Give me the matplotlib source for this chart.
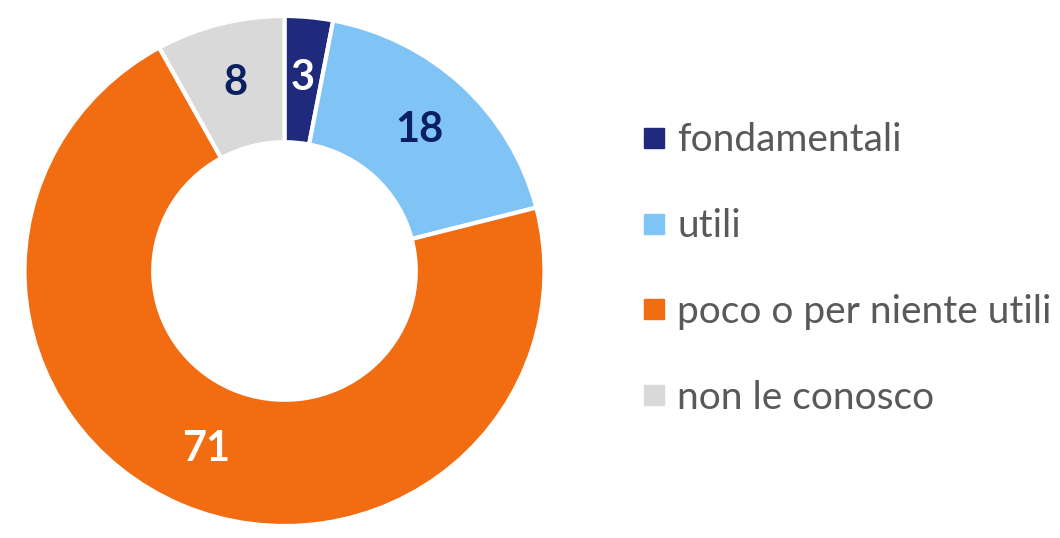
import matplotlib.pyplot as plt
from matplotlib.lines import Line2D

categories = ["fondamentali", "utili", "poco o per niente utili", "non le conosco"]
values = [3, 18, 71, 8]
colors = ["#1F2A7C", "#80C4F6", "#F26C12", "#D9D9D9"]
label_colors = ["white", "#0B2060", "white", "#0B2060"]

plt.rcParams['font.family'] = ['Lato', 'DejaVu Sans']

W, H = 1060, 538
fig = plt.figure(figsize=(W/100, H/100), dpi=100)
# donut slightly wider than tall, like the original
cx, cy, rx, ry = 284.5, 271, 260, 255
ax = fig.add_axes([(cx-rx)/W, (H-cy-ry)/H, 2*rx/W, 2*ry/H])

wedges, texts, autotexts = ax.pie(
    values, colors=colors, startangle=90, counterclock=False, radius=1,
    wedgeprops=dict(width=0.495, edgecolor='white', linewidth=3),
    autopct=lambda p: "%d" % round(p), pctdistance=0.76,
    textprops=dict(fontsize=30, fontweight='bold'))
for t, c in zip(autotexts, label_colors):
    t.set_color(c)
ax.set_xlim(-1, 1)
ax.set_ylim(-1, 1)
ax.set_aspect('auto')
ax.axis('off')

handles = [Line2D([], [], marker='s', linestyle='none', markersize=14,
                  markerfacecolor=c, markeredgecolor=c) for c in colors]
fig.legend(handles, categories, loc='center left', bbox_to_anchor=(617/W, 0.5),
           frameon=False, fontsize=28, labelcolor='#595959',
           labelspacing=1.28, handletextpad=0.15, borderpad=0, handlelength=0.9)

fig.savefig("out.png", dpi=100)
